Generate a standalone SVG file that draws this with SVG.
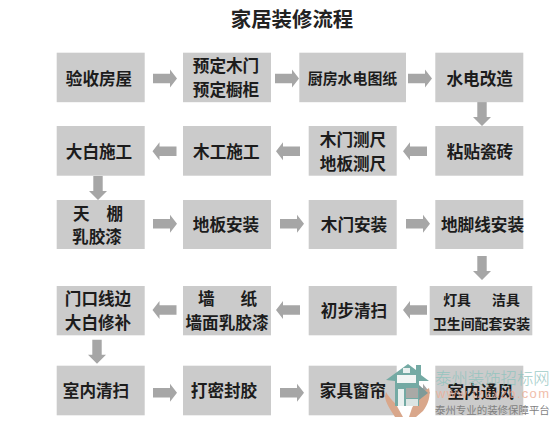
<svg xmlns="http://www.w3.org/2000/svg" width="560" height="424" viewBox="0 0 560 424">
<style>
.n{fill:#cbcbcb}
.t{font-family:"Noto Sans CJK SC","Liberation Sans",sans-serif;font-size:16.600px;font-weight:700;fill:#1c1c1c;text-anchor:middle}
.s{font-size:14.900px}
.x{font-size:13.900px}
.a{fill:#a6a6a6}
.w{font-family:"Noto Sans CJK SC",sans-serif}
</style>
<defs>
<path id="r" d="M0-4.700H17V-9L24 0 17 9V4.700H0Z"/>
<path id="l" d="M0-4.700H-17V-9L-24 0-17 9V4.700H0Z"/>
<path id="d" d="M-4.700 0V15H-9L0 24 9 15H4.700V0Z"/>
</defs>
<rect width="560" height="424" fill="#fff"/>
<text x="292" y="27" text-anchor="middle" class="w" style="font-size:20.400px;font-weight:700;fill:#222">家居装修流程</text>
<g id="connectors" class="a">
<use href="#r" x="153" y="78.500"/><use href="#r" x="275" y="78.500"/><use href="#r" x="408" y="78.500"/>
<use href="#d" x="482" y="102"/>
<use href="#l" x="427" y="151.300"/><use href="#l" x="300" y="151.300"/><use href="#l" x="176.500" y="151.300"/>
<use href="#d" x="98" y="176"/>
<use href="#r" x="153" y="223.700"/><use href="#r" x="280" y="223.700"/><use href="#r" x="406" y="223.700"/>
<use href="#d" x="482" y="256"/>
<use href="#l" x="427" y="310"/><use href="#l" x="300" y="310"/><use href="#l" x="176.500" y="310"/>
<use href="#d" x="97" y="339.700"/>
<use href="#r" x="153" y="392.700"/><use href="#r" x="280" y="392.700"/><use href="#r" x="406" y="392.700"/>
</g>
<g id="n1"><rect class="n" x="56.700" y="52.700" width="88" height="49.500"/><text class="t" x="99" y="84.500">验收房屋</text></g>
<g id="n2"><rect class="n" x="183" y="52.700" width="88" height="49.500"/><text class="t" x="226" y="72">预定木门</text><text class="t" x="226" y="95.500">预定橱柜</text></g>
<g id="n3"><rect class="n" x="299.300" y="52.700" width="106.700" height="49.500"/><text class="t s" x="352.500" y="84">厨房水电图纸</text></g>
<g id="n4"><rect class="n" x="435.300" y="52.700" width="88" height="49.500"/><text class="t" x="479.700" y="84.500">水电改造</text></g>
<g id="n5"><rect class="n" x="56.700" y="126" width="88" height="49.700"/><text class="t" x="99" y="157.500">大白施工</text></g>
<g id="n6"><rect class="n" x="183" y="126" width="88" height="49.700"/><text class="t" x="226.300" y="157.500">木工施工</text></g>
<g id="n7"><rect class="n" x="308.700" y="126" width="88" height="49.700"/><text class="t" x="353" y="146">木门测尺</text><text class="t" x="353" y="169.500">地板测尺</text></g>
<g id="n8"><rect class="n" x="435.300" y="126" width="88" height="49.700"/><text class="t" x="480" y="157.500">粘贴瓷砖</text></g>
<g id="n9"><rect class="n" x="56.700" y="200" width="88" height="49"/><text class="t" x="98" y="220" style="word-spacing:13px">天 棚</text><text class="t" x="97" y="243">乳胶漆</text></g>
<g id="n10"><rect class="n" x="183" y="200" width="88" height="49"/><text class="t" x="226" y="231">地板安装</text></g>
<g id="n11"><rect class="n" x="308.700" y="200" width="88" height="49"/><text class="t" x="354" y="231">木门安装</text></g>
<g id="n12"><rect class="n" x="435.300" y="200" width="88" height="49"/><text class="t" x="482.500" y="231">地脚线安装</text></g>
<g id="n13"><rect class="n" x="56.700" y="286" width="88" height="49.300"/><text class="t" x="98" y="305">门口线边</text><text class="t" x="98" y="329">大白修补</text></g>
<g id="n14"><rect class="n" x="183" y="286" width="88" height="49.300"/><text class="t" x="227.500" y="305" style="word-spacing:22px">墙 纸</text><text class="t" x="227" y="329">墙面乳胶漆</text></g>
<g id="n15"><rect class="n" x="308.700" y="286" width="88" height="49.300"/><text class="t" x="354" y="316.500">初步清扫</text></g>
<g id="n16"><rect class="n" x="429.700" y="286" width="102.600" height="49.300"/><text class="t x" x="481.500" y="304.500" style="word-spacing:18px">灯具 洁具</text><text class="t x" x="481.500" y="328.500">卫生间配套安装</text></g>
<g id="n17"><rect class="n" x="56.700" y="365.700" width="88" height="49.600"/><text class="t" x="96" y="397">室内清扫</text></g>
<g id="n18"><rect class="n" x="183" y="365.700" width="88" height="49.600"/><text class="t" x="224" y="397">打密封胶</text></g>
<g id="n19"><rect class="n" x="308.700" y="365.700" width="88" height="49.600"/><text class="t" x="353" y="397">家具窗帘</text></g>
<g id="n20"><rect class="n" x="435.300" y="365.700" width="88" height="49.600"/><text class="t" x="480.700" y="398">室内通风</text></g>
<g id="watermark">
<path d="M386 392C389 398 396 403 398 408L403 417H395C391 411 385 402 385 396Z" fill="#d9a78b"/>
<path d="M429 388C431 395 428 405 423 411L416 417H409L412 408C415 402 421 398 423 392Z" fill="#d9a78b"/>
<path d="M386 380 408 364 416 370V365H421V375L429 381H419V406H395V381Z" fill="#74aaa4"/>
<rect x="397" y="375" width="19" height="8" fill="#f2f5f4"/>
<rect x="403" y="368" width="7" height="5" fill="#e9f0ef"/>
<rect x="398" y="389" width="6" height="17" fill="#e9f0ef"/>
<rect x="406" y="388" width="12" height="10" fill="#a9a9a6"/>
<rect x="406" y="399" width="12" height="7" fill="#dbe4e2"/>
<path d="M419 385 428 393 419 400Z" fill="#7f9a98"/>
<text x="435" y="384" class="w" style="font-size:16.400px;font-weight:300;fill:#8fc4be;opacity:.85">泰州装饰招标网</text>
<text x="436" y="398" style="font-family:'Liberation Sans',sans-serif;font-size:13px;fill:#eeaf96;letter-spacing:1.300px;opacity:.8">www.tzzxzb.com</text>
<text x="435" y="414" class="w" style="font-size:10.450px;fill:#7f7f7f">泰州专业的装修保障平台</text>
</g>
</svg>
